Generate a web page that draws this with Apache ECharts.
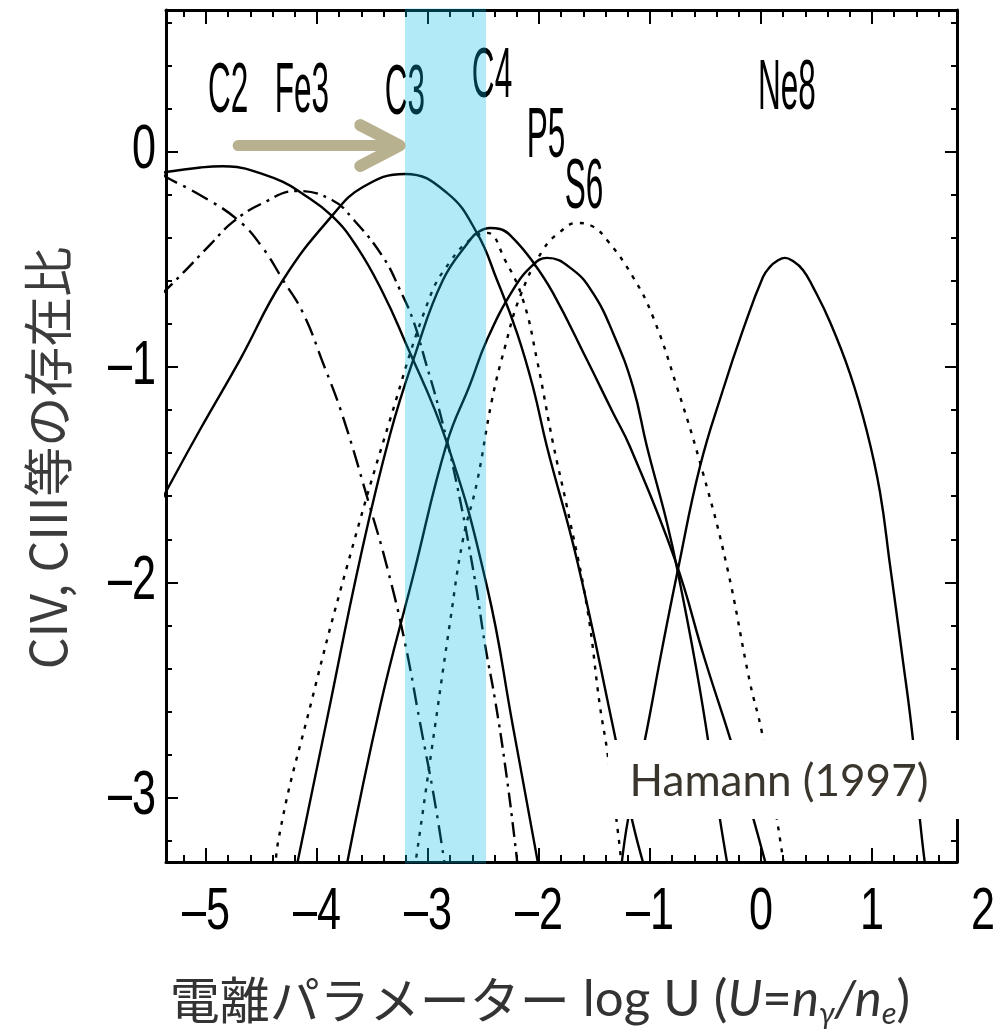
<!DOCTYPE html>
<html>
<head>
<meta charset="utf-8">
<script src="https://cdn.jsdelivr.net/npm/echarts@6/dist/echarts.min.js"></script>
<style>
  html, body { margin: 0; padding: 0; background: #fff; }
  #chart { width: 1003px; height: 1032px; }
</style>
</head>
<body>
<div id="chart"></div>
<script>
// axis extents
const xMin = -5.36, xMax = 1.766, xLabelMax = 2.0;
const yMin = -3.3, yMax = 0.66;

const xTickLabels = [-5, -4, -3, -2, -1, 0, 1, 2];
const xMajorTicks = [-5, -4, -3, -2, -1, 0, 1];
const yTickLabels = [-3, -2, -1, 0];
const xMinorTicks = [];
for (let v = -52; v <= 16; v += 2) if (v % 10 !== 0) xMinorTicks.push(v / 10);
const yMinorTicks = [];
for (let v = -32; v <= 6; v += 2) if (v % 10 !== 0) yMinorTicks.push(v / 10);

// ionisation fraction curves (log U, log fraction)
const solidC2 = [[-5.40,-0.10],[-5.36,-0.093],[-5.05,-0.072],[-4.85,-0.066],[-4.721,-0.070],[-4.514,-0.098],
  [-4.306,-0.139],[-4.153,-0.186],[-3.865,-0.297],[-3.640,-0.441],[-3.405,-0.655],[-3.225,-0.859],
  [-2.829,-1.352],[-2.468,-2.020],[-2.234,-2.671],[-1.982,-3.381]];
const dashDotFe3 = [[-5.40,-0.66],[-5.36,-0.641],[-5.207,-0.562],[-4.964,-0.432],[-4.757,-0.325],[-4.486,-0.237],
  [-4.180,-0.181],[-3.865,-0.223],[-3.676,-0.311],[-3.405,-0.488],[-3.252,-0.641],[-3.135,-0.780],
  [-3.027,-0.966],[-2.892,-1.212],[-2.739,-1.547],[-2.577,-1.988],[-2.486,-2.290],[-2.396,-2.545],
  [-2.306,-2.847],[-2.216,-3.209],[-2.180,-3.381]];
const dashDotLow = [[-5.40,-0.10],[-5.36,-0.116],[-5.054,-0.200],[-4.712,-0.316],[-4.495,-0.441],[-4.306,-0.595],
  [-4.126,-0.748],[-3.946,-0.980],[-3.766,-1.231],[-3.523,-1.649],[-3.369,-1.928],[-3.207,-2.281],
  [-3.072,-2.652],[-2.937,-3.024],[-2.829,-3.381]];
const solidC3 = [[-5.40,-1.62],[-5.36,-1.579],[-5.054,-1.291],[-4.694,-0.966],[-4.306,-0.595],[-3.865,-0.297],
  [-3.586,-0.163],[-3.207,-0.102],[-2.829,-0.190],[-2.559,-0.376],[-2.378,-0.595],[-2.198,-0.841],
  [-2.054,-1.092],[-1.928,-1.370],[-1.658,-1.895],[-1.333,-2.671],[-1.162,-3.103],[-1.018,-3.381]];
const solidC4 = [[-4.207,-3.381],[-3.901,-2.615],[-3.613,-1.895],[-3.342,-1.314],[-3.117,-0.943],[-2.865,-0.595],
  [-2.622,-0.409],[-2.559,-0.376],[-2.441,-0.353],[-2.351,-0.358],[-2.234,-0.400],[-2.054,-0.511],
  [-1.874,-0.655],[-1.568,-0.966],[-1.333,-1.212],[-1.180,-1.370],[-0.775,-1.895],[-0.505,-2.360],
  [-0.234,-2.801],[0.081,-3.381]];
const dottedC4b = [[-4.378,-3.381],[-4.351,-3.209],[-4.045,-2.545],[-3.730,-1.928],[-3.342,-1.245],[-2.982,-0.673],
  [-2.802,-0.511],[-2.622,-0.409],[-2.468,-0.376],[-2.306,-0.502],[-2.144,-0.687],[-2.018,-0.966],
  [-1.874,-1.352],[-1.748,-1.649],[-1.568,-2.113],[-1.450,-2.578],[-1.387,-2.778],[-1.288,-3.163],[-1.243,-3.381]];
const solidP5 = [[-3.757,-3.381],[-3.432,-2.578],[-3.135,-1.974],[-2.829,-1.352],[-2.622,-1.082],[-2.468,-0.873],
  [-2.234,-0.641],[-2.054,-0.525],[-1.928,-0.492],[-1.694,-0.548],[-1.514,-0.655],[-1.333,-0.841],
  [-1.153,-1.092],[-1.027,-1.370],[-0.847,-1.723],[-0.748,-1.955],[-0.550,-2.499],[-0.369,-3.103],[-0.279,-3.381]];
const dottedS6 = [[-3.135,-3.381],[-3.099,-3.256],[-2.937,-2.671],[-2.802,-2.188],[-2.685,-1.802],[-2.559,-1.537],
  [-2.423,-1.152],[-2.306,-0.906],[-2.171,-0.673],[-1.964,-0.455],[-1.811,-0.372],[-1.658,-0.330],
  [-1.523,-0.344],[-1.387,-0.409],[-1.153,-0.581],[-0.973,-0.766],[-0.757,-1.092],[-0.523,-1.491],
  [-0.306,-1.928],[-0.099,-2.466],[0.009,-2.699],[0.144,-3.103],[0.225,-3.381]];
const solidNe8 = [[-1.270,-3.381],[-1.198,-3.103],[-1.045,-2.731],[-0.892,-2.313],[-0.748,-1.941],[-0.550,-1.463],
  [-0.342,-1.105],[-0.162,-0.827],[0.018,-0.581],[0.081,-0.534],[0.144,-0.507],[0.216,-0.492],[0.288,-0.507],
  [0.378,-0.548],[0.468,-0.627],[0.622,-0.790],[0.802,-1.030],[0.955,-1.300],[1.072,-1.580],[1.162,-1.918],
  [1.270,-2.330],[1.369,-2.731],[1.432,-3.103],[1.495,-3.381]];

// ion labels
const ionLabels = ['C2', 'Fe3', 'C3', 'C4', 'P5', 'S6', 'Ne8'];
const ionLabelX = [-4.80, -4.135, -3.207, -2.423, -1.937, -1.595, 0.234];
const ionLabelY = [0.274, 0.274, 0.269, 0.344, 0.065, -0.172, 0.288];

// highlighted band and arrow
const bandRange = [-3.207, -2.477];
const arrowShaft = [[-4.71, 0.03], [-3.30, 0.03]];
const arrowHead = [[-3.61, 0.125], [-3.255, 0.03], [-3.61, -0.065]];

const helv = "'Liberation Sans', Arial, sans-serif";
const dash = v => (v < 0 ? '\u2013' + Math.abs(v) : String(v));

function curve(name, data, type) {
  return {
    name: name, type: 'line', data: data, xAxisIndex: 0, yAxisIndex: 0,
    showSymbol: false, smooth: 0.45, silent: true, z: 3,
    lineStyle: { color: '#000', width: 2.4, type: type }
  };
}

function xAx(grid, pos, ticks, len, line) {
  return {
    type: 'value', gridIndex: grid, min: xMin, max: xMax, position: pos,
    axisLine: { show: line, onZero: false, lineStyle: { color: '#000', width: 3 } },
    axisTick: { show: true, inside: true, length: len, customValues: ticks, lineStyle: { color: '#000', width: 2 } },
    axisLabel: { show: false }, splitLine: { show: false }
  };
}
function yAx(grid, pos, ticks, len, line) {
  return {
    type: 'value', gridIndex: grid, min: yMin, max: yMax, position: pos,
    axisLine: { show: line, onZero: false, lineStyle: { color: '#000', width: 3 } },
    axisTick: { show: true, inside: true, length: len, customValues: ticks, lineStyle: { color: '#000', width: 2 } },
    axisLabel: { show: false }, splitLine: { show: false }
  };
}

// condensed tall text, placed at a data position plus a pixel offset
function textSeries(name, xi, yi, data, texts, opts) {
  return {
    name: name, type: 'custom', xAxisIndex: xi, yAxisIndex: yi, z: 4, silent: true, clip: false,
    data: data,
    renderItem: function (params, api) {
      const p = api.coord([api.value(0), api.value(1)]);
      return {
        type: 'text', x: p[0] + (opts.dx || 0), y: p[1] + (opts.dy || 0),
        scaleX: opts.sx, scaleY: opts.sy,
        style: { text: texts[params.dataIndex], fontFamily: helv, fontSize: opts.size,
          fill: '#000', align: opts.align, verticalAlign: 'middle' }
      };
    }
  };
}

const chart = echarts.init(document.getElementById('chart'), null, { renderer: 'canvas' });

chart.setOption({
  animation: false,
  backgroundColor: '#fff',
  grid: [
    { left: 166, top: 10, width: 791, height: 852 },
    { left: 166, top: 10, width: 817, height: 852 }
  ],
  xAxis: [
    xAx(0, 'bottom', xMajorTicks, 14, true),
    xAx(0, 'bottom', xMinorTicks, 7, false),
    xAx(0, 'top', xMajorTicks, 14, true),
    xAx(0, 'top', xMinorTicks, 7, false),
    { type: 'value', gridIndex: 1, min: xMin, max: xLabelMax, show: false }
  ],
  yAxis: [
    yAx(0, 'left', yTickLabels, 12, true),
    yAx(0, 'left', yMinorTicks, 6, false),
    yAx(0, 'right', yTickLabels, 12, true),
    yAx(0, 'right', yMinorTicks, 6, false),
    { type: 'value', gridIndex: 1, min: yMin, max: yMax, show: false }
  ],
  series: [
    curve('C2', solidC2, 'solid'),
    curve('Fe3', dashDotFe3, [15, 6, 3, 6]),
    curve('low', dashDotLow, [18, 7, 3, 7]),
    curve('C3', solidC3, 'solid'),
    curve('C4', solidC4, 'solid'),
    curve('C4b', dottedC4b, [4, 7]),
    curve('P5', solidP5, 'solid'),
    curve('S6', dottedS6, [4, 7]),
    curve('Ne8', solidNe8, 'solid'),
    textSeries('ions', 0, 0, ionLabels.map((n, i) => [ionLabelX[i], ionLabelY[i]]), ionLabels,
      { size: 38, sx: 0.83, sy: 1.85, align: 'center' }),
    textSeries('xTicks', 4, 4, xTickLabels.map(v => [v, yMin]), xTickLabels.map(dash),
      { size: 60, sx: 0.72, sy: 1, dy: 50, align: 'center' }),
    textSeries('yTicks', 0, 0, yTickLabels.map(v => [xMin, v]), yTickLabels.map(dash),
      { size: 60, sx: 0.72, sy: 1.05, dx: -10, dy: -1, align: 'right' }),
    {
      name: 'arrow', type: 'line', data: arrowShaft, xAxisIndex: 0, yAxisIndex: 0,
      showSymbol: false, silent: true, z: 12,
      lineStyle: { color: '#b8b18f', width: 11, cap: 'round' }
    },
    {
      name: 'arrowHead', type: 'line', data: arrowHead, xAxisIndex: 0, yAxisIndex: 0,
      showSymbol: false, silent: true, z: 12,
      lineStyle: { color: '#b8b18f', width: 12, cap: 'round', join: 'round' }
    },
    {
      name: 'band', type: 'custom', xAxisIndex: 0, yAxisIndex: 0, z: 10, silent: true, clip: false,
      data: [bandRange],
      renderItem: function (params, api) {
        const p0 = api.coord([api.value(0), yMax]);
        const p1 = api.coord([api.value(1), yMin]);
        return {
          type: 'rect',
          shape: { x: p0[0], y: p0[1] - 1.5, width: p1[0] - p0[0], height: p1[1] - p0[1] + 3 },
          style: { fill: 'rgba(0,185,232,0.30)' }
        };
      }
    }
  ],
  graphic: [
    { type: 'rect', left: 608, top: 740, shape: { width: 395, height: 79 }, style: { fill: '#fff' }, z: 50 },
    { type: 'text', x: 779, y: 782, z: 51,
      style: { text: 'Hamann (1997)', fontFamily: "Lato, 'Open Sans', sans-serif", fontSize: 44,
        fill: '#3a352d', align: 'center', verticalAlign: 'middle' } },
    { type: 'text', x: 48, y: 458, rotation: Math.PI / 2, z: 51,
      style: { text: 'CIV, CIII等の存在比', fontFamily: "'Noto Sans CJK JP', sans-serif", fontSize: 50,
        fill: '#3c3c3c', align: 'center', verticalAlign: 'middle' } },
    { type: 'text', x: 540, y: 1000, z: 51,
      style: {
        text: '{c|電離パラメーター}{l|\u00a0log U (}{i|U}{l|=}{i|n}{s|γ}{i|/n}{s|e}{l|)}',
        align: 'center', verticalAlign: 'middle', fill: '#333',
        rich: {
          c: { fontFamily: "'Noto Sans CJK JP', sans-serif", fontSize: 50, lineHeight: 58, fill: '#333' },
          l: { fontFamily: "Lato, 'Open Sans', sans-serif", fontSize: 51, lineHeight: 58, fill: '#333' },
          i: { fontFamily: "Lato, 'Open Sans', sans-serif", fontSize: 51, fontStyle: 'italic', lineHeight: 58, fill: '#333' },
          s: { fontFamily: "Lato, 'Open Sans', sans-serif", fontSize: 31, fontStyle: 'italic', lineHeight: 58,
            verticalAlign: 'bottom', fill: '#333' }
        }
      } }
  ]
});
</script>
</body>
</html>
